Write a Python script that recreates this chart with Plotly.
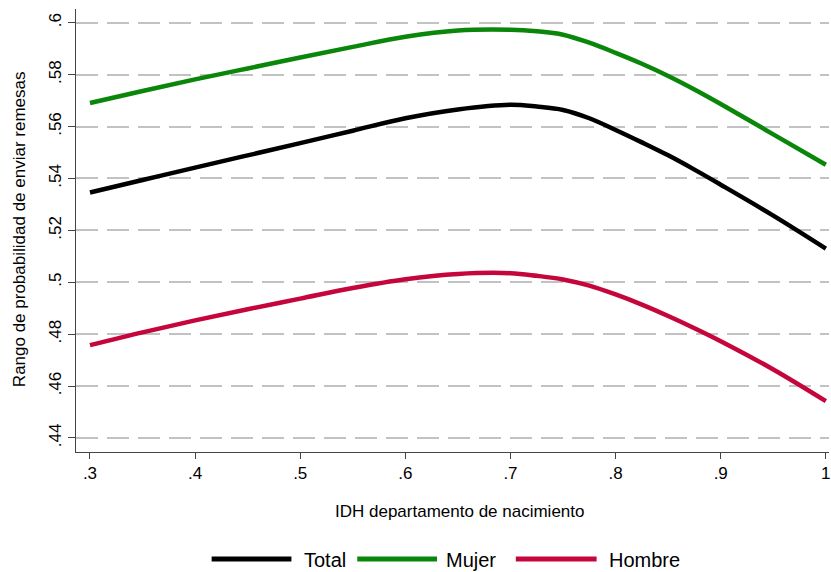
import plotly.graph_objects as go

# Índice de desarrollo humano del departamento de nacimiento
idh = [0.30, 0.35, 0.40, 0.45, 0.50, 0.55, 0.60, 0.65, 0.70, 0.725, 0.75, 0.775,
       0.80, 0.825, 0.85, 0.875, 0.90, 0.95, 1.00]

# Probabilidad predicha de enviar remesas
total = [0.5346, 0.5394, 0.5442, 0.5489, 0.5536, 0.5584, 0.5632, 0.5666, 0.5684, 0.5677,
         0.5664, 0.5632, 0.5587, 0.5539, 0.5489, 0.5434, 0.5376, 0.5257, 0.5130]
mujer = [0.5691, 0.5737, 0.5782, 0.5824, 0.5866, 0.5907, 0.5946, 0.5970, 0.5973, 0.5967,
         0.5954, 0.5923, 0.5884, 0.5842, 0.5795, 0.5743, 0.5687, 0.5570, 0.5453]
hombre = [0.4758, 0.4807, 0.4853, 0.4896, 0.4937, 0.4978, 0.5012, 0.5032, 0.5035, 0.5025,
          0.5011, 0.4987, 0.4953, 0.4914, 0.4870, 0.4823, 0.4773, 0.4664, 0.4542]

x_ticks = [0.3, 0.4, 0.5, 0.6, 0.7, 0.8, 0.9, 1.0]
x_labels = [".3", ".4", ".5", ".6", ".7", ".8", ".9", "1"]
y_ticks = [0.44, 0.46, 0.48, 0.50, 0.52, 0.54, 0.56, 0.58, 0.60]
y_labels = [".44", ".46", ".48", ".5", ".52", ".54", ".56", ".58", ".6"]

series = [("Total", total, "#000000"),
          ("Mujer", mujer, "#0a870a"),
          ("Hombre", hombre, "#c5063d")]

FONT = "Liberation Sans, Arial, sans-serif"

fig = go.Figure()
for name, vals, color in series:
    fig.add_trace(go.Scatter(x=idh, y=vals, mode="lines", name=name,
                             line=dict(color=color, width=4.5, shape="spline", smoothing=1.0),
                             showlegend=False))

W, H = 831, 572
L, R, T, B = 76, 0, 9, 120

fig.update_layout(
    width=W, height=H,
    margin=dict(l=L, r=R, t=T, b=B),
    paper_bgcolor="white", plot_bgcolor="white",
    font=dict(family=FONT, size=17, color="#000000"),
    xaxis=dict(range=[0.2867, 1.003], tickvals=x_ticks, ticktext=x_labels,
               showgrid=False, zeroline=False, showline=True, linecolor="#444444",
               linewidth=1, ticks="outside", ticklen=6, tickcolor="#444444",
               ticklabeloverflow="allow", tickfont=dict(size=17)),
    yaxis=dict(range=[0.4346, 0.6053], tickvals=y_ticks, ticktext=y_labels,
               showgrid=True, gridcolor="#c2c2c2", gridwidth=1.8, griddash="22px,9px",
               zeroline=False, showline=True, linecolor="#444444", linewidth=1,
               ticks="outside", ticklen=7, tickcolor="#444444", tickangle=-90,
               tickfont=dict(size=17)),
)

plot_w = W - L - R
plot_h = H - T - B

def px(xp):
    return (xp - L) / plot_w

def py(yp):
    return (H - B - yp) / plot_h

# Axis titles
fig.add_annotation(text="IDH departamento de nacimiento", xref="paper", yref="paper",
                   x=px(461), y=py(511), xanchor="center", yanchor="middle",
                   showarrow=False, font=dict(size=17))
fig.add_annotation(text="Rango de probabilidad de enviar remesas", xref="paper", yref="paper",
                   x=px(19), y=py(229), xanchor="center", yanchor="middle", textangle=-90,
                   showarrow=False, font=dict(size=17))

# Legend row at the bottom
legend_items = [("Total", "#000000", 212, 292, 303),
                ("Mujer", "#0a870a", 358, 438, 445),
                ("Hombre", "#c5063d", 517, 598, 608)]
for label, color, x0, x1, xt in legend_items:
    fig.add_shape(type="line", xref="paper", yref="paper",
                  x0=px(x0), x1=px(x1), y0=py(559), y1=py(559),
                  line=dict(color=color, width=5))
    fig.add_annotation(text=label, xref="paper", yref="paper", x=px(xt), y=py(560),
                       xanchor="left", yanchor="middle", showarrow=False,
                       font=dict(size=20))

fig.write_html("out.html")
